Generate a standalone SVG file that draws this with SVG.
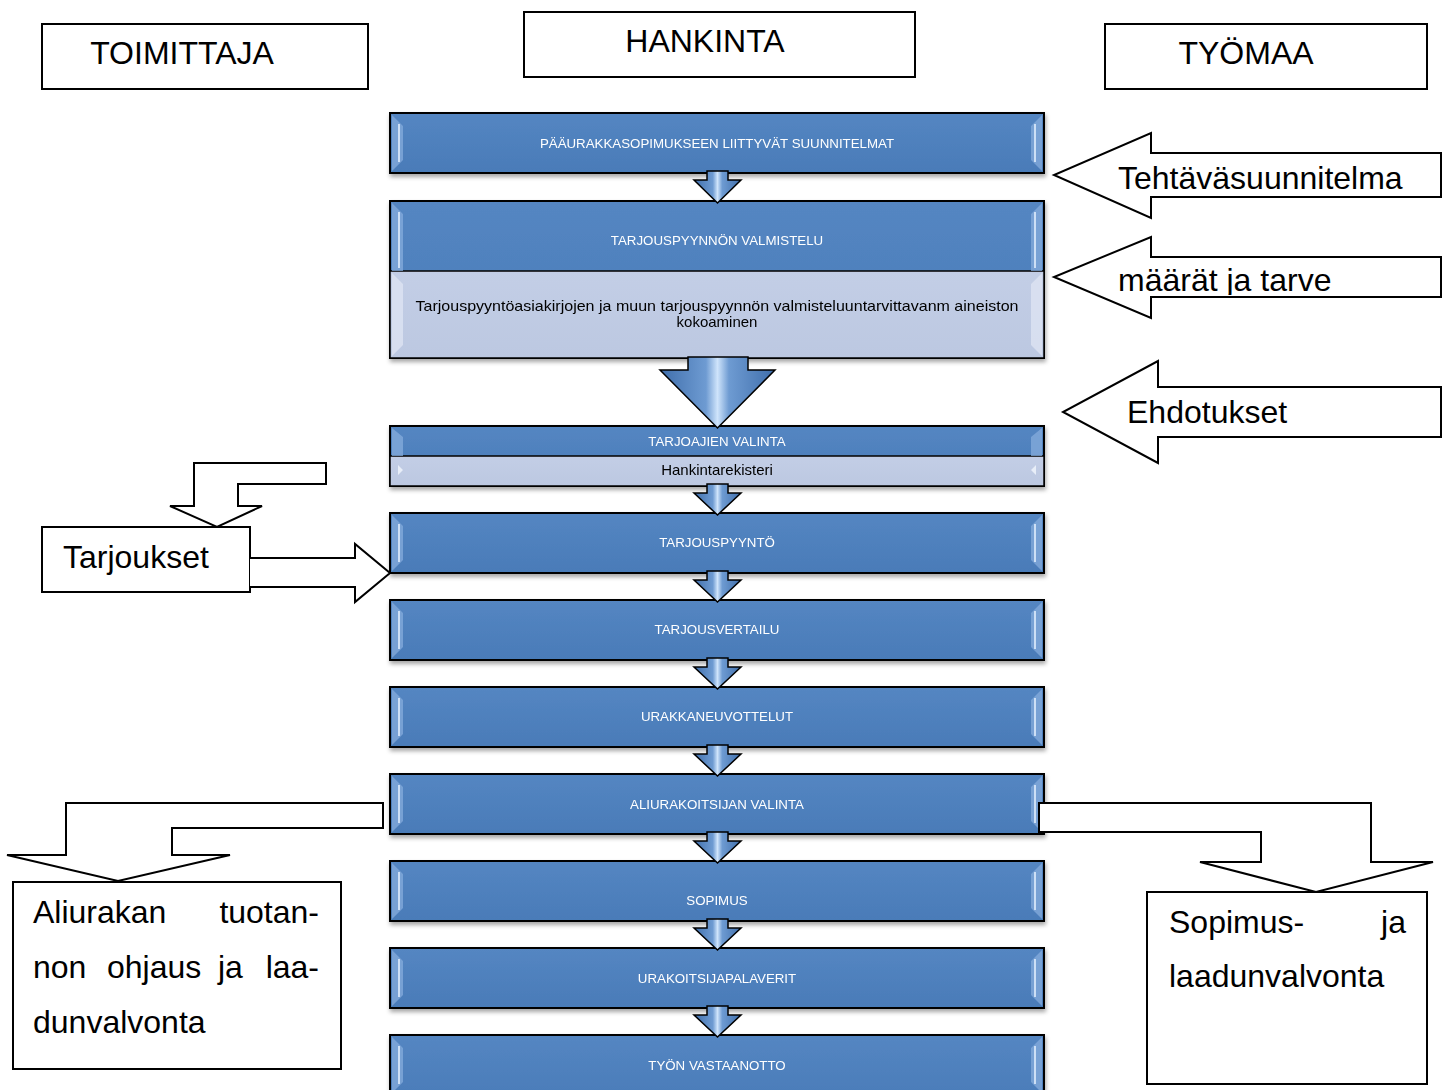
<svg xmlns="http://www.w3.org/2000/svg" width="1451" height="1090" viewBox="0 0 1451 1090">
<defs>
<style>
.hdr{fill:#fff;stroke:#000;stroke-width:2}
.big{font-family:"Liberation Sans",Arial,sans-serif;font-size:32px;fill:#000}
.blk{fill:#fff;stroke:#000;stroke-width:2;stroke-linejoin:miter}
.box{fill:url(#bg);stroke:#000;stroke-width:2}
.lite{fill:url(#lg);stroke:#000;stroke-width:1.5}
.bt{font-family:"Liberation Sans",Arial,sans-serif;font-size:13.3px;fill:#fff;text-anchor:middle}
.lt{font-family:"Liberation Sans",Arial,sans-serif;font-size:15px;fill:#000;text-anchor:middle}
.bev{fill:#86acdc;opacity:0.75}
.bevl{stroke:#d6e6f8;stroke-width:2;fill:none;opacity:0.9}
.arr{fill:url(#ag);stroke:#000;stroke-width:1.5;stroke-linejoin:miter}
</style>
<linearGradient id="bg" x1="0" y1="0" x2="0" y2="1">
<stop offset="0" stop-color="#5486c2"/>
<stop offset="1" stop-color="#4a7bb8"/>
</linearGradient>
<linearGradient id="lg" x1="0" y1="0" x2="0" y2="1">
<stop offset="0" stop-color="#c3cee6"/>
<stop offset="1" stop-color="#bcc8e1"/>
</linearGradient>
<linearGradient id="ag" x1="0" y1="0" x2="1" y2="0">
<stop offset="0" stop-color="#3f6eab"/>
<stop offset="0.4" stop-color="#6e9bd2"/>
<stop offset="0.5" stop-color="#cfe4fb"/>
<stop offset="0.6" stop-color="#6e9bd2"/>
<stop offset="1" stop-color="#3f6eab"/>
</linearGradient>
<filter id="sh" x="-5%" y="-20%" width="110%" height="150%">
<feDropShadow dx="1" dy="3" stdDeviation="2" flood-color="#000" flood-opacity="0.35"/>
</filter>
<clipPath id="clipMaarat"><rect x="1100" y="250" width="340" height="45"/></clipPath>
</defs>

<!-- Header nodes -->
<g id="toimittaja">
<rect class="hdr" x="42" y="24" width="326" height="65"/>
<text class="big" x="182" y="64" text-anchor="middle">TOIMITTAJA</text>
</g>
<g id="hankinta">
<rect class="hdr" x="524" y="12" width="391" height="65"/>
<text class="big" x="705" y="52" text-anchor="middle">HANKINTA</text>
</g>
<g id="tyomaa">
<rect class="hdr" x="1105" y="24" width="322" height="65"/>
<text class="big" x="1246" y="64" text-anchor="middle">TYÖMAA</text>
</g>

<!-- Process boxes -->
<g id="b1" filter="url(#sh)">
<rect class="box" x="390" y="113" width="654" height="60"/>
<path class="bev" d="M392,115 L403,126 L403,160 L392,171 Z M1042,115 L1031,126 L1031,160 L1042,171 Z"/>
<path class="bevl" d="M399,124 L399,162 M1035,124 L1035,162"/>
<text class="bt" x="717" y="148">PÄÄURAKKASOPIMUKSEEN LIITTYVÄT SUUNNITELMAT</text>
</g>
<g id="b2" filter="url(#sh)">
<rect class="box" x="390" y="201" width="654" height="157"/>
<rect class="lite" x="390" y="271" width="654" height="87"/>
<path class="bev" d="M392,203 L403,214 L403,271 L392,271 Z M1042,203 L1031,214 L1031,271 L1042,271 Z"/>
<path class="bevl" d="M399,212 L399,268 M1035,212 L1035,268"/>
<path d="M392,273 L403,284 L403,345 L392,356 Z M1042,273 L1031,284 L1031,345 L1042,356 Z" fill="#dde4f2" opacity="0.8"/>
<text class="bt" x="717" y="245">TARJOUSPYYNNÖN VALMISTELU</text>
<text class="lt" x="717" y="311" textLength="603" lengthAdjust="spacingAndGlyphs">Tarjouspyyntöasiakirjojen ja muun tarjouspyynnön valmisteluuntarvittavanm aineiston</text>
<text class="lt" x="717" y="327">kokoaminen</text>
</g>
<g id="b3" filter="url(#sh)">
<rect class="box" x="390" y="426" width="654" height="60"/>
<rect class="lite" x="390" y="456" width="654" height="30"/>
<path class="bev" d="M392,428 L403,437 L403,456 L392,456 Z M1042,428 L1031,437 L1031,456 L1042,456 Z"/>
<path d="M398,465 L403,470 L398,475 Z M1036,465 L1031,470 L1036,475 Z" fill="#e8eef8"/>
<text class="bt" x="717" y="446">TARJOAJIEN VALINTA</text>
<text class="lt" x="717" y="475">Hankintarekisteri</text>
</g>
<g id="b4" filter="url(#sh)">
<rect class="box" x="390" y="513" width="654" height="60"/>
<path class="bev" d="M392,515 L403,526 L403,560 L392,571 Z M1042,515 L1031,526 L1031,560 L1042,571 Z"/>
<path class="bevl" d="M399,524 L399,562 M1035,524 L1035,562"/>
<text class="bt" x="717" y="547">TARJOUSPYYNTÖ</text>
</g>
<g id="b5" filter="url(#sh)">
<rect class="box" x="390" y="600" width="654" height="60"/>
<path class="bev" d="M392,602 L403,613 L403,647 L392,658 Z M1042,602 L1031,613 L1031,647 L1042,658 Z"/>
<path class="bevl" d="M399,611 L399,649 M1035,611 L1035,649"/>
<text class="bt" x="717" y="634">TARJOUSVERTAILU</text>
</g>
<g id="b6" filter="url(#sh)">
<rect class="box" x="390" y="687" width="654" height="60"/>
<path class="bev" d="M392,689 L403,700 L403,734 L392,745 Z M1042,689 L1031,700 L1031,734 L1042,745 Z"/>
<path class="bevl" d="M399,698 L399,736 M1035,698 L1035,736"/>
<text class="bt" x="717" y="721">URAKKANEUVOTTELUT</text>
</g>
<g id="b7" filter="url(#sh)">
<rect class="box" x="390" y="774" width="654" height="60"/>
<path class="bev" d="M392,776 L403,787 L403,821 L392,832 Z M1042,776 L1031,787 L1031,821 L1042,832 Z"/>
<path class="bevl" d="M399,785 L399,823 M1035,785 L1035,823"/>
<text class="bt" x="717" y="809">ALIURAKOITSIJAN VALINTA</text>
</g>
<g id="b8" filter="url(#sh)">
<rect class="box" x="390" y="861" width="654" height="60"/>
<path class="bev" d="M392,863 L403,874 L403,908 L392,919 Z M1042,863 L1031,874 L1031,908 L1042,919 Z"/>
<path class="bevl" d="M399,872 L399,910 M1035,872 L1035,910"/>
<text class="bt" x="717" y="905">SOPIMUS</text>
</g>
<g id="b9" filter="url(#sh)">
<rect class="box" x="390" y="948" width="654" height="60"/>
<path class="bev" d="M392,950 L403,961 L403,995 L392,1006 Z M1042,950 L1031,961 L1031,995 L1042,1006 Z"/>
<path class="bevl" d="M399,959 L399,997 M1035,959 L1035,997"/>
<text class="bt" x="717" y="983">URAKOITSIJAPALAVERIT</text>
</g>
<g id="b10" filter="url(#sh)">
<rect class="box" x="390" y="1035" width="654" height="70"/>
<path class="bev" d="M392,1037 L403,1048 L403,1082 L392,1093 Z M1042,1037 L1031,1048 L1031,1082 L1042,1093 Z"/>
<path class="bevl" d="M399,1046 L399,1084 M1035,1046 L1035,1084"/>
<text class="bt" x="717" y="1070">TYÖN VASTAANOTTO</text>
</g>

<!-- Side text nodes -->
<g id="tarjoukset">
<rect class="hdr" x="42" y="527" width="208" height="65"/>
<text class="big" x="63" y="568">Tarjoukset</text>
</g>
<g id="aliurakan">
<rect class="hdr" x="13" y="882" width="328" height="187"/>
<text class="big" x="33" y="923">Aliurakan</text>
<text class="big" x="319" y="923" text-anchor="end">tuotan-</text>
<text class="big" x="33" y="978">non</text>
<text class="big" x="107" y="978">ohjaus</text>
<text class="big" x="218" y="978">ja</text>
<text class="big" x="319" y="978" text-anchor="end">laa-</text>
<text class="big" x="33" y="1033">dunvalvonta</text>
</g>
<g id="sopimusbox">
<rect class="hdr" x="1147" y="892" width="280" height="192"/>
<text class="big" x="1169" y="933">Sopimus-</text>
<text class="big" x="1406" y="933" text-anchor="end">ja</text>
<text class="big" x="1169" y="987">laadunvalvonta</text>
</g>

<!-- Connectors -->
<g id="connectors">
<path class="arr" d="M707,171 L728,171 L728,180 L741,180 L717.5,203 L694,180 L707,180 Z"/>
<path class="arr" d="M688,357 L748,357 L748,370 L775,370 L717.5,428 L660,370 L688,370 Z"/>
<path class="arr" d="M707,484 L728,484 L728,493 L741,493 L717.5,515 L694,493 L707,493 Z"/>
<path class="arr" d="M707,571 L728,571 L728,580 L741,580 L717.5,602 L694,580 L707,580 Z"/>
<path class="arr" d="M707,658 L728,658 L728,667 L741,667 L717.5,689 L694,667 L707,667 Z"/>
<path class="arr" d="M707,745 L728,745 L728,754 L741,754 L717.5,776 L694,754 L707,754 Z"/>
<path class="arr" d="M707,832 L728,832 L728,841 L741,841 L717.5,863 L694,841 L707,841 Z"/>
<path class="arr" d="M707,919 L728,919 L728,928 L741,928 L717.5,950 L694,928 L707,928 Z"/>
<path class="arr" d="M707,1006 L728,1006 L728,1015 L741,1015 L717.5,1037 L694,1015 L707,1015 Z"/>

<g id="tehtava">
<path class="blk" d="M1441,153 L1151,153 L1151,133 L1054,175 L1151,218 L1151,197 L1441,197 Z"/>
<text class="big" x="1118" y="189">Tehtäväsuunnitelma</text>
</g>
<g id="maarat">
<path class="blk" d="M1441,257 L1151,257 L1151,237 L1054,277 L1151,318 L1151,297 L1441,297 Z"/>
<text class="big" x="1118" y="291" clip-path="url(#clipMaarat)">määrät ja tarve</text>
</g>
<g id="ehdotukset">
<path class="blk" d="M1441,387 L1158,387 L1158,361 L1063,412 L1158,463 L1158,437 L1441,437 Z"/>
<text class="big" x="1127" y="423">Ehdotukset</text>
</g>
<path class="blk" d="M326,463 L194,463 L194,506 L170,506 L217,527 L262,506 L238,506 L238,484 L326,484 Z"/>
<path class="blk" d="M250,558 L355,558 L355,544 L390,573 L355,602 L355,587 L250,587"/>
<path class="blk" d="M383,803 L66,803 L66,855 L7,855 L118,881 L230,855 L172,855 L172,828 L383,828 Z"/>
<path class="blk" d="M1039,803 L1371,803 L1371,862 L1433,862 L1316,892 L1200,862 L1261,862 L1261,832 L1039,832 Z"/>
</g>
</svg>
